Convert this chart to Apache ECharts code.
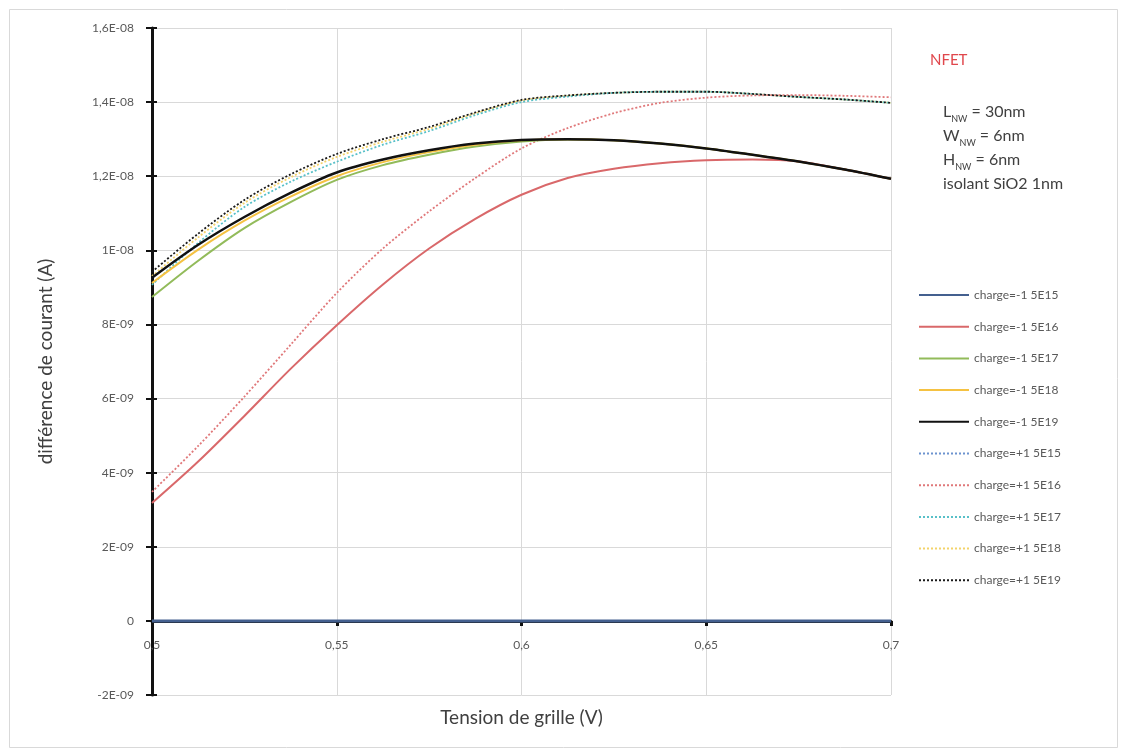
<!DOCTYPE html>
<html>
<head>
<meta charset="utf-8">
<script src="https://cdn.jsdelivr.net/npm/echarts@6/dist/echarts.min.js"></script>
<style>
html,body{margin:0;padding:0;background:#fff;}
#chart{width:1123px;height:749px;}
</style>
</head>
<body>
<div id="chart"></div>
<script>
// Gate voltage (V)
var voltages = [0.5, 0.5125, 0.525, 0.5375, 0.55, 0.5625, 0.575, 0.5875, 0.6, 0.6125, 0.625, 0.6375, 0.65, 0.6625, 0.675, 0.6875, 0.7];
// Current difference, in units of 1E-09 A
var negE15 = [0, 0, 0, 0, 0, 0, 0, 0, 0, 0, 0, 0, 0, 0, 0, 0, 0];
var negE16 = [3.18, 4.3, 5.53, 6.8, 7.98, 9.08, 10.05, 10.85, 11.5, 11.95, 12.2, 12.35, 12.43, 12.45, 12.4, 12.18, 11.93];
var negE17 = [8.74, 9.72, 10.6, 11.3, 11.9, 12.3, 12.58, 12.8, 12.94, 12.99, 12.97, 12.88, 12.75, 12.58, 12.4, 12.18, 11.93];
var negE18 = [9.12, 10.02, 10.8, 11.45, 12.0, 12.38, 12.65, 12.85, 12.97, 13.0, 12.97, 12.88, 12.75, 12.58, 12.4, 12.18, 11.93];
var negE19 = [9.26, 10.15, 10.9, 11.55, 12.1, 12.45, 12.7, 12.88, 12.98, 13.0, 12.97, 12.88, 12.75, 12.58, 12.4, 12.18, 11.93];
var posE15 = [0, 0, 0, 0, 0, 0, 0, 0, 0, 0, 0, 0, 0, 0, 0, 0, 0];
var posE16 = [3.48, 4.72, 6.05, 7.45, 8.85, 10.05, 11.05, 11.95, 12.75, 13.3, 13.7, 13.98, 14.12, 14.18, 14.19, 14.17, 14.13];
var posE17 = [9.07, 10.2, 11.17, 11.85, 12.39, 12.85, 13.22, 13.65, 14.0, 14.15, 14.25, 14.28, 14.28, 14.22, 14.14, 14.07, 13.98];
var posE18 = [9.3, 10.35, 11.28, 11.97, 12.52, 12.93, 13.28, 13.69, 14.04, 14.17, 14.25, 14.28, 14.28, 14.22, 14.14, 14.07, 13.98];
var posE19 = [9.42, 10.45, 11.36, 12.05, 12.6, 13.0, 13.33, 13.72, 14.06, 14.18, 14.25, 14.28, 14.28, 14.22, 14.14, 14.07, 13.98];

var seriesNames = ['charge=-1 5E15','charge=-1 5E16','charge=-1 5E17','charge=-1 5E18','charge=-1 5E19',
                   'charge=+1 5E15','charge=+1 5E16','charge=+1 5E17','charge=+1 5E18','charge=+1 5E19'];
var yTickValues = [-2, 0, 2, 4, 6, 8, 10, 12, 14, 16];
var yTickLabels = ['-2E-09','0','2E-09','4E-09','6E-09','8E-09','1E-08','1,2E-08','1,4E-08','1,6E-08'];
var xTickValues = [0.5, 0.55, 0.6, 0.65, 0.7];
var xTickLabels = ['0,5','0,55','0,6','0,65','0,7'];

function pairs(arr){ return voltages.map(function(v,i){ return [v, arr[i]]; }); }

var allData = [negE15, negE16, negE17, negE18, negE19, posE15, posE16, posE17, posE18, posE19];
var colors = ['#44608f','#d9686a','#92bb5a','#f5c242','#111111','#6d93cf','#e0787a','#58c0c8','#f3d36a','#1a1a1a'];
var dotted = [false,false,false,false,false,true,true,true,true,true];
// draw order: keep blue solid on top
var order = [5,8,7,6,9,2,3,1,4,0];

var series = order.map(function(k){
  return {
    name: seriesNames[k],
    type: 'line',
    data: pairs(allData[k]),
    smooth: 0.3,
    symbol: 'none',
    z: 3,
    color: colors[k],
    lineStyle: {
      color: colors[k],
      width: dotted[k] ? 1.8 : (k===4 ? 2.5 : (k===0 ? 3 : 2)),
      type: dotted[k] ? [2, 2] : 'solid'
    }
  };
});

var chart = echarts.init(document.getElementById('chart'), null, {renderer:'canvas'});
var FONT = 'Lato, "Open Sans", sans-serif';
function xFmt(v){ var i = xTickValues.findIndex(function(t){return Math.abs(t-v)<1e-9;}); return i>=0 ? xTickLabels[i] : ''; }
function yFmt(v){ var i = yTickValues.indexOf(Math.round(v)); return i>=0 ? yTickLabels[i] : ''; }
chart.setOption({
  backgroundColor: '#ffffff',
  animation: false,
  textStyle: {fontFamily: FONT},
  grid: {left: 152, top: 28, right: 232, bottom: 54, containLabel: false, outerBoundsMode: 'none'},
  xAxis: [{
    type: 'value', min: 0.5, max: 0.7, interval: 0.05,
    name: 'Tension de grille (V)', nameLocation: 'middle', nameGap: 13,
    nameTextStyle: {fontSize: 19, color: '#404040', fontFamily: FONT},
    axisLine: {onZero: true, lineStyle: {color: '#111', width: 3}},
    axisTick: {show: true, length: 5, inside: false, lineStyle: {color: '#111', width: 3}},
    axisLabel: {fontSize: 12, color: '#595959', margin: -56, fontFamily: FONT, formatter: xFmt},
    splitLine: {show: true, lineStyle: {color: '#d9d9d9', width: 1}}
  }],
  yAxis: [{
    type: 'value', min: -2, max: 16, interval: 2,
    name: 'différence de courant (A)', nameLocation: 'middle', nameGap: 97, nameRotate: 90,
    nameTextStyle: {fontSize: 19, color: '#404040', fontFamily: FONT},
    axisLine: {show: true, onZero: false, lineStyle: {color: '#111', width: 3}},
    axisTick: {show: true, length: 6, lineStyle: {color: '#111', width: 2}},
    axisLabel: {fontSize: 12, color: '#595959', margin: 18, fontFamily: FONT, formatter: yFmt},
    splitLine: {show: true, lineStyle: {color: '#d9d9d9', width: 1}}
  }, {
    type: 'value', min: -2, max: 16, interval: 2, position: 'left',
    axisLine: {show: false, onZero: false},
    axisTick: {show: true, inside: true, length: 5, lineStyle: {color: '#111', width: 2}},
    axisLabel: {show: false}, splitLine: {show: false}
  }],
  legend: {
    orient: 'vertical', left: 918, top: 289, padding: 0,
    data: seriesNames,
    itemWidth: 50, itemHeight: 12, itemGap: 19.7,
    itemStyle: {opacity: 0},
    textStyle: {fontSize: 12, color: '#595959', fontFamily: FONT}
  },
  graphic: [
    {type: 'rect', left: 7, top: 7, shape: {width: 1108, height: 738},
     style: {fill: 'none', stroke: '#d9d9d9', lineWidth: 1}, z: -10},
    {type: 'text', left: 930, top: 53, style: {text: 'NFET', fill: '#e0474c', fontSize: 15, fontFamily: FONT}},
    {type: 'text', left: 943, top: 104, style: {
      text: '{m|L}{s|NW}{m| = 30nm}\n{m|W}{s|NW}{m| = 6nm}\n{m|H}{s|NW}{m| = 6nm}\n{m|isolant SiO2 1nm}',
      fill: '#404040', fontFamily: FONT,
      rich: {
        m: {fontSize: 16, fill: '#404040', lineHeight: 24, fontFamily: FONT},
        s: {fontSize: 9, fill: '#404040', lineHeight: 24, verticalAlign: 'bottom', padding: [6,0,0,0], fontFamily: FONT}
      }}}
  ],
  series: series
});
</script>
</body>
</html>
